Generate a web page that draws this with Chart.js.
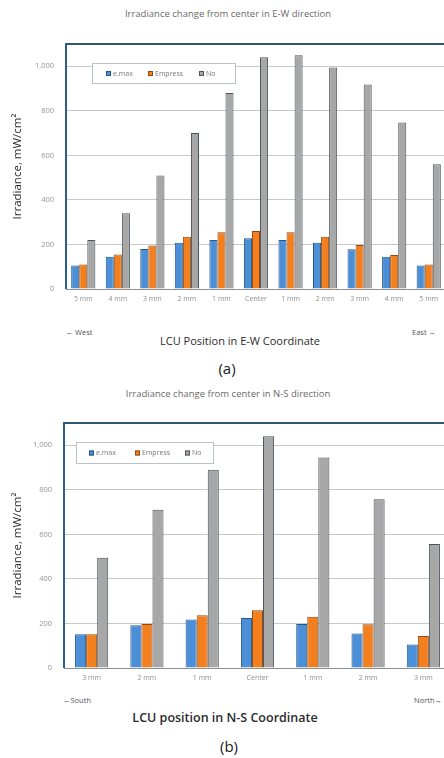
<!DOCTYPE html>
<html>
<head>
<meta charset="utf-8">
<script src="https://cdn.jsdelivr.net/npm/chart.js@4.4.1/dist/chart.umd.min.js"></script>
<style>
  html, body { margin: 0; padding: 0; background: #fff; width: 444px; height: 758px; overflow: hidden; position: relative; font-family: "Open Sans", "Noto Sans", sans-serif; }
  canvas { position: absolute; left: 0; }
  .t { position: absolute; white-space: nowrap; transform: translate(-50%, -50%); line-height: 1; }
  .title { font-size: 9.5px; color: #6a6a6a; }
  .dir { font-size: 7.5px; color: #555; }
  .xt { font-size: 11px; color: #2a2a2a; }
  .cap { font-size: 15px; color: #1a1a1a; }
</style>
</head>
<body>
<div class="t title" style="left:228px;top:14px;">Irradiance change from center in E-W direction</div>
<canvas id="ew" width="452" height="312" style="top:0px;"></canvas>
<div class="t dir" style="left:79px;top:333px;">&larr; West</div>
<div class="t dir" style="left:424px;top:333px;">East &rarr;</div>
<div class="t xt" style="left:240px;top:340px;">LCU Position in E-W Coordinate</div>
<div class="t cap" style="left:227px;top:368px;">(a)</div>

<div class="t title" style="left:228px;top:394px;">Irradiance change from center in N-S direction</div>
<canvas id="ns" width="457" height="312" style="top:380px;"></canvas>
<div class="t dir" style="left:77px;top:701px;">&larr;South</div>
<div class="t dir" style="left:428px;top:701px;">North&rarr;</div>
<div class="t xt" style="left:225px;top:718px;font-size:12.5px;font-weight:600;">LCU position in N-S Coordinate</div>
<div class="t cap" style="left:229px;top:746px;">(b)</div>

<script>
// Irradiance (mW/cm²) through each ceramic, by light-curing unit offset
const seriesNames = ['e.max', 'Empress', 'No'];

const ewCategories = ['5 mm', '4 mm', '3 mm', '2 mm', '1 mm', 'Center', '1 mm', '2 mm', '3 mm', '4 mm', '5 mm'];
const ewEmax    = [105, 145, 180, 208, 220, 228, 220, 208, 178, 145, 105];
const ewEmpress = [110, 155, 195, 235, 255, 260, 255, 235, 197, 153, 110];
const ewNo      = [220, 340, 510, 700, 880, 1040, 1050, 995, 918, 748, 560];

const nsCategories = ['3 mm', '2 mm', '1 mm', 'Center', '1 mm', '2 mm', '3 mm'];
const nsEmax    = [152, 192, 218, 225, 198, 155, 105];
const nsEmpress = [152, 198, 237, 259, 230, 196, 144];
const nsNo      = [495, 710, 890, 1040, 945, 758, 557];

const yTickValues = [0, 200, 400, 600, 800, 1000];

const fills   = ['#4a8fd8', '#f47f1e', '#a7a7a7'];
const borders = ['#27557f', '#8f4a14', '#4a545e'];

// Plot frame: dark left and top edges
const framePlugin = {
  id: 'frame',
  beforeDatasetsDraw(chart) {
    const a = chart.chartArea, ctx = chart.ctx;
    ctx.save();
    ctx.lineWidth = 2;
    ctx.strokeStyle = '#34566c';
    ctx.beginPath();
    ctx.moveTo(a.left - 1, a.top);
    ctx.lineTo(chart.width, a.top);
    ctx.stroke();
    ctx.strokeStyle = '#2b5f8e';
    ctx.beginPath();
    ctx.moveTo(a.left, a.top - 1);
    ctx.lineTo(a.left, a.bottom);
    ctx.stroke();
    ctx.restore();
  }
};

// Boxed legend drawn inside the plot
const boxLegendPlugin = {
  id: 'boxLegend',
  afterDatasetsDraw(chart, args, opts) {
    const ctx = chart.ctx;
    ctx.save();
    ctx.fillStyle = '#ffffff';
    ctx.fillRect(opts.x, opts.y, opts.w, opts.h);
    ctx.strokeStyle = '#b9c2c8';
    ctx.lineWidth = 1;
    ctx.strokeRect(opts.x + 0.5, opts.y + 0.5, opts.w, opts.h);
    ctx.font = '7px "Open Sans", sans-serif';
    ctx.textBaseline = 'middle';
    const cy = opts.y + opts.h / 2 + 0.5;
    chart.data.datasets.forEach((ds, i) => {
      const sx = opts.items[i];
      ctx.fillStyle = ds.backgroundColor;
      ctx.fillRect(sx, cy - 2.5, 5, 5);
      ctx.strokeStyle = ds.borderColor;
      ctx.strokeRect(sx + 0.5, cy - 2, 4, 4);
      ctx.fillStyle = '#777';
      ctx.fillText(ds.label, sx + 7, cy);
    });
    ctx.restore();
  }
};

function makeChart(id, labels, values, cfg) {
  return new Chart(document.getElementById(id), {
    type: 'bar',
    data: {
      labels: labels,
      datasets: values.map((v, i) => ({
        label: seriesNames[i],
        data: v,
        backgroundColor: fills[i],
        borderColor: borders[i],
        borderWidth: 1,
        categoryPercentage: cfg.groupWidth,
        barPercentage: 1.0
      }))
    },
    options: {
      responsive: false,
      animation: false,
      devicePixelRatio: 1,
      layout: { padding: { top: cfg.padTop, right: cfg.padRight, left: 0, bottom: 0 } },
      plugins: {
        legend: { display: false },
        tooltip: { enabled: false },
        boxLegend: cfg.legend
      },
      scales: {
        x: {
          grid: { display: false, drawTicks: false },
          border: { display: true, color: '#8f8f8f', width: 1 },
          ticks: { color: '#8f8f8f', font: { size: 7, family: '"Open Sans", sans-serif' }, padding: 6, maxRotation: 0, autoSkip: false },
          afterFit(axis) { axis.height = cfg.xHeight; }
        },
        y: {
          min: 0,
          max: 1100,
          afterBuildTicks(axis) { axis.ticks = yTickValues.map(v => ({ value: v })); },
          grid: { color: '#c8c8c8', lineWidth: 1, drawTicks: false },
          border: { display: false },
          ticks: {
            color: '#939393',
            font: { size: 7.5, family: '"Open Sans", sans-serif' },
            padding: 12,
            callback: v => v.toLocaleString('en-US')
          },
          title: {
            display: true,
            text: 'Irradiance, mW/cm\u00B2',
            color: '#2a2a2a',
            font: { size: 11.5, family: '"Open Sans", sans-serif' },
            padding: { top: 11, bottom: 0 }
          },
          afterFit(axis) { axis.width = cfg.yWidth; }
        }
      }
    },
    plugins: [framePlugin, boxLegendPlugin]
  });
}

makeChart('ew', ewCategories, [ewEmax, ewEmpress, ewNo], {
  groupWidth: 0.7, padTop: 44, padRight: 6, xHeight: 23, yWidth: 66,
  legend: { x: 92, y: 63, w: 143, h: 20, items: [106, 148, 199] }
});

makeChart('ns', nsCategories, [nsEmax, nsEmpress, nsNo], {
  groupWidth: 0.6, padTop: 43, padRight: 6, xHeight: 24, yWidth: 64,
  legend: { x: 76, y: 62, w: 137, h: 21, items: [89, 135, 185] }
});
</script>
</body>
</html>
